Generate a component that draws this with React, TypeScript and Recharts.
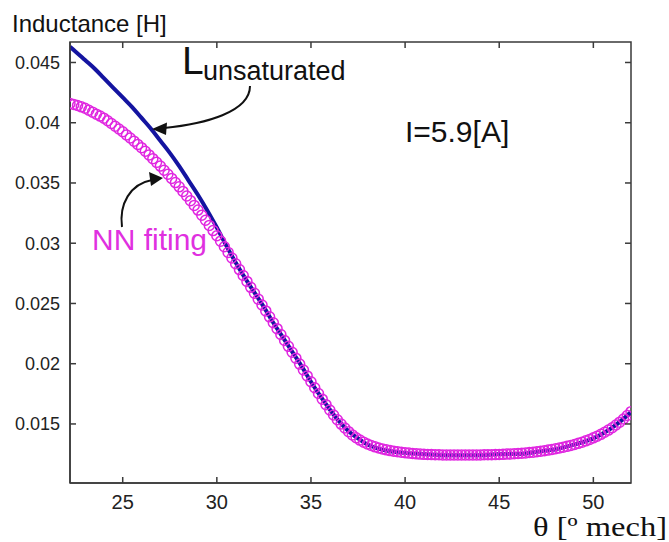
import React from 'react';
import { LineChart, Line, XAxis, YAxis, ReferenceArea } from 'recharts';

// rotor position [deg mech], NN fitting samples every 0.2 deg
const theta = [
  22.2, 22.4, 22.6, 22.8, 23.0, 23.2, 23.4, 23.6, 23.8, 24.0,
  24.2, 24.4, 24.6, 24.8, 25.0, 25.2, 25.4, 25.6, 25.8, 26.0,
  26.2, 26.4, 26.6, 26.8, 27.0, 27.2, 27.4, 27.6, 27.8, 28.0,
  28.2, 28.4, 28.6, 28.8, 29.0, 29.2, 29.4, 29.6, 29.8, 30.0,
  30.2, 30.4, 30.6, 30.8, 31.0, 31.2, 31.4, 31.6, 31.8, 32.0,
  32.2, 32.4, 32.6, 32.8, 33.0, 33.2, 33.4, 33.6, 33.8, 34.0,
  34.2, 34.4, 34.6, 34.8, 35.0, 35.2, 35.4, 35.6, 35.8, 36.0,
  36.2, 36.4, 36.6, 36.8, 37.0, 37.2, 37.4, 37.6, 37.8, 38.0,
  38.2, 38.4, 38.6, 38.8, 39.0, 39.2, 39.4, 39.6, 39.8, 40.0,
  40.2, 40.4, 40.6, 40.8, 41.0, 41.2, 41.4, 41.6, 41.8, 42.0,
  42.2, 42.4, 42.6, 42.8, 43.0, 43.2, 43.4, 43.6, 43.8, 44.0,
  44.2, 44.4, 44.6, 44.8, 45.0, 45.2, 45.4, 45.6, 45.8, 46.0,
  46.2, 46.4, 46.6, 46.8, 47.0, 47.2, 47.4, 47.6, 47.8, 48.0,
  48.2, 48.4, 48.6, 48.8, 49.0, 49.2, 49.4, 49.6, 49.8, 50.0,
  50.2, 50.4, 50.6, 50.8, 51.0, 51.2, 51.4, 51.6, 51.8, 52.0,
];

// NN fitting inductance [H]
const nnFit = [
  0.04160, 0.04152, 0.04143, 0.04132, 0.04120, 0.04104, 0.04088, 0.04071, 0.04055, 0.04038,
  0.04016, 0.03994, 0.03971, 0.03948, 0.03925, 0.03899, 0.03873, 0.03847, 0.03820, 0.03793,
  0.03763, 0.03733, 0.03702, 0.03671, 0.03640, 0.03606, 0.03572, 0.03538, 0.03503, 0.03468,
  0.03430, 0.03392, 0.03353, 0.03314, 0.03275, 0.03233, 0.03191, 0.03148, 0.03105, 0.03062,
  0.03017, 0.02971, 0.02924, 0.02877, 0.02830, 0.02781, 0.02732, 0.02683, 0.02634, 0.02585,
  0.02536, 0.02487, 0.02438, 0.02389, 0.02340, 0.02291, 0.02242, 0.02193, 0.02144, 0.02095,
  0.02046, 0.01997, 0.01948, 0.01899, 0.01850, 0.01801, 0.01753, 0.01706, 0.01660, 0.01616,
  0.01574, 0.01535, 0.01499, 0.01466, 0.01436, 0.01409, 0.01386, 0.01366, 0.01349, 0.01334,
  0.01321, 0.01310, 0.01300, 0.01292, 0.01285, 0.01279, 0.01274, 0.01269, 0.01265, 0.01261,
  0.01258, 0.01255, 0.01252, 0.01250, 0.01248, 0.01247, 0.01246, 0.01245, 0.01244, 0.01243,
  0.01243, 0.01242, 0.01242, 0.01242, 0.01242, 0.01242, 0.01242, 0.01242, 0.01243, 0.01243,
  0.01244, 0.01244, 0.01245, 0.01246, 0.01247, 0.01248, 0.01250, 0.01251, 0.01253, 0.01255,
  0.01257, 0.01260, 0.01263, 0.01266, 0.01270, 0.01274, 0.01278, 0.01283, 0.01288, 0.01294,
  0.01300, 0.01307, 0.01314, 0.01322, 0.01330, 0.01339, 0.01348, 0.01360, 0.01372, 0.01385,
  0.01399, 0.01414, 0.01431, 0.01449, 0.01469, 0.01491, 0.01515, 0.01541, 0.01570, 0.01602,
];

// unsaturated inductance curve
const unsatTheta = [
  22.2, 22.5, 23, 23.5, 24, 24.5, 25, 25.5, 26, 26.5,
  27, 27.5, 28, 28.5, 29, 29.5, 30, 30.5, 31, 31.5,
  32, 32.5, 33, 33.5, 34, 34.5, 35, 35.5, 36, 36.5,
  37, 37.5, 38, 38.5, 39, 40, 41, 42, 43, 44,
  45, 46, 47, 48, 49, 50, 50.5, 51, 51.5, 52,
];
const unsaturated = [
  0.0463, 0.0459, 0.0452, 0.0445, 0.0437, 0.0429, 0.0421, 0.0413, 0.0404, 0.0395,
  0.0385, 0.0375, 0.0364, 0.0352, 0.0340, 0.0327, 0.0313, 0.0298, 0.0284, 0.0271,
  0.0259, 0.0247, 0.0234, 0.0222, 0.0210, 0.0198, 0.0185, 0.0173, 0.0162, 0.0152,
  0.0144, 0.0138, 0.0133, 0.0130, 0.0128, 0.0126, 0.0125, 0.0124, 0.0124, 0.0124,
  0.0125, 0.0125, 0.0127, 0.0129, 0.0133, 0.0138, 0.0142, 0.0147, 0.0153, 0.0160,
];

const xTicks = [25, 30, 35, 40, 45, 50];
const yTicks = [0.015, 0.02, 0.025, 0.03, 0.035, 0.04, 0.045];

const nnData = theta.map((t, i) => ({ theta: t, L: nnFit[i] }));
const unsatData = unsatTheta.map((t, i) => ({ theta: t, L: unsaturated[i] }));

const W = 669;
const H = 542;
const MARGIN = { top: 42, right: 38, bottom: 29, left: 10 };
const Y_AXIS_W = 60;
const X_AXIS_H = 30;
const PLOT_LEFT = MARGIN.left + Y_AXIS_W;
const PLOT_RIGHT = W - MARGIN.right;
const PLOT_TOP = MARGIN.top;
const PLOT_BOTTOM = H - MARGIN.bottom - X_AXIS_H;
const AXIS = '#3a3a3a';
const TICK_LEN = 6;

// inward ticks on both bottom and top edge, matlab style
const XTick = (p: any) => (
  <g>
    <line x1={p.x} x2={p.x} y1={PLOT_BOTTOM} y2={PLOT_BOTTOM - TICK_LEN} stroke={AXIS} strokeWidth={1.5} />
    <line x1={p.x} x2={p.x} y1={PLOT_TOP} y2={PLOT_TOP + TICK_LEN} stroke={AXIS} strokeWidth={1.5} />
    <text x={p.x} y={PLOT_BOTTOM + 26} textAnchor="middle" fontSize={20} fill="#222">{p.payload.value}</text>
  </g>
);

const YTick = (p: any) => (
  <g>
    <line x1={PLOT_LEFT} x2={PLOT_LEFT + TICK_LEN} y1={p.y} y2={p.y} stroke={AXIS} strokeWidth={1.5} />
    <line x1={PLOT_RIGHT - TICK_LEN} x2={PLOT_RIGHT} y1={p.y} y2={p.y} stroke={AXIS} strokeWidth={1.5} />
    <text x={PLOT_LEFT - 10} y={p.y} dy="0.36em" textAnchor="end" fontSize={18} fill="#222">{p.payload.value}</text>
  </g>
);

export default function App() {
  return (
    <div style={{ position: 'relative', width: W, height: H, background: '#fff', fontFamily: '"Liberation Sans", Arial, sans-serif' }}>
      <style>{'body{margin:0}'}</style>
      <LineChart width={W} height={H} margin={MARGIN}>
        <XAxis
          dataKey="theta" type="number" domain={[22.2, 52]} allowDataOverflow ticks={xTicks}
          height={X_AXIS_H} tickLine={false} axisLine={{ stroke: AXIS, strokeWidth: 1.5 }}
          tick={<XTick />}
        />
        <YAxis
          type="number" domain={[0.0101, 0.0467]} allowDataOverflow ticks={yTicks}
          width={Y_AXIS_W} tickLine={false} axisLine={{ stroke: AXIS, strokeWidth: 1.5 }}
          tick={<YTick />}
        />
        <ReferenceArea x1={22.2} x2={52} y1={0.0101} y2={0.0467} fill="none" stroke={AXIS} strokeWidth={1.5} ifOverflow="visible" />
        <Line data={unsatData} dataKey="L" type="monotone" stroke="#1414a0" strokeWidth={4}
          dot={false} activeDot={false} isAnimationActive={false} />
        <Line data={nnData} dataKey="L" type="linear" stroke="none"
          dot={{ r: 5, stroke: '#e026e0', strokeWidth: 1.5, fill: 'none' }}
          activeDot={false} isAnimationActive={false} />
      </LineChart>

      <svg width={W} height={H} style={{ position: 'absolute', left: 0, top: 0, pointerEvents: 'none' }}>
        <text x={12} y={32} fontSize={24} fill="#111">Inductance [H]</text>
        <text x={182} y={74} fontSize={39} fill="#111">L</text>
        <text x={203} y={80} fontSize={27} fill="#111">unsaturated</text>
        <path d="M 250 86 C 250 112, 205 124, 164 128" fill="none" stroke="#111" strokeWidth={2} />
        <polygon points="152,129 167,122.5 166,135" fill="#111" />
        <text x={405} y={142} fontSize={30} fill="#111">I=5.9[A]</text>
        <text x={92} y={250} fontSize={30} fill="#e030e0">NN fiting</text>
        <path d="M 122 227 C 119 204, 130 184, 152 180" fill="none" stroke="#111" strokeWidth={2} />
        <polygon points="163,178 149,172 151,186" fill="#111" />
        <text x={667} y={536} fontSize={27} textAnchor="end" fill="#111" textLength={134} lengthAdjust="spacingAndGlyphs"
          fontFamily='"Liberation Serif", "Times New Roman", serif'>θ [º mech]</text>
      </svg>
    </div>
  );
}
